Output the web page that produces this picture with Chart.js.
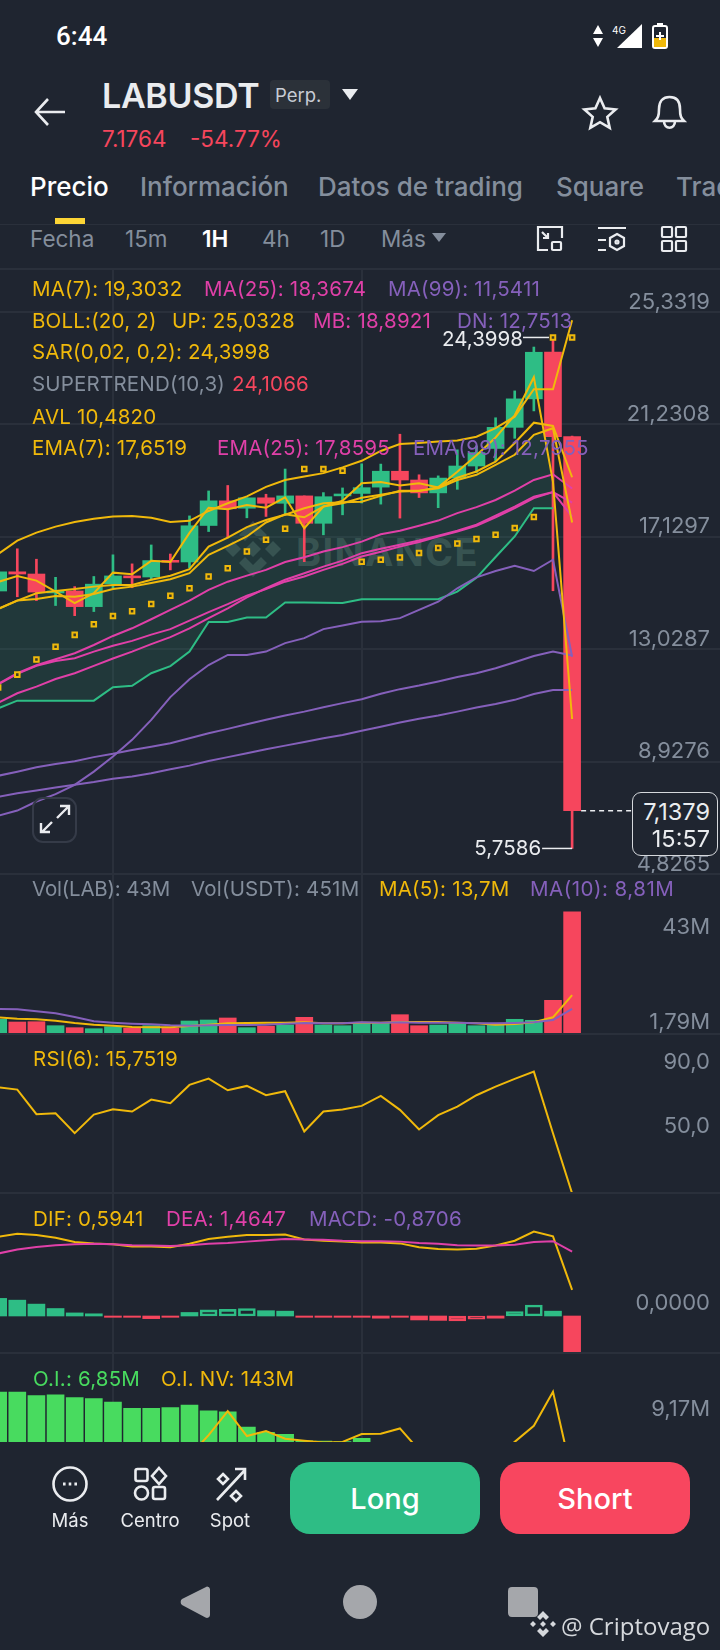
<!DOCTYPE html>
<html lang="es"><head><meta charset="utf-8">
<script src="https://cdn.jsdelivr.net/npm/chart.js@4/dist/chart.umd.js"></script>
<style>
html,body{margin:0;padding:0;background:#1F2530;width:720px;height:1650px;overflow:hidden;font-family:Inter,sans-serif}
#page{position:relative;width:720px;height:1650px;overflow:hidden}
canvas{position:absolute;left:0;display:block}
.t{position:absolute;white-space:nowrap;line-height:1;transform:translateY(-50%)}
.lg{font-size:20.5px;letter-spacing:.2px;z-index:5}
.y{color:#F0B90B}.m{color:#E040A8}.p{color:#8560BB}.g{color:#848E9C}.r{color:#F6465D}.lime{color:#48DB5F}
.hr{position:absolute;left:0;width:720px;height:2px;background:#2A303B}
svg{position:absolute;overflow:visible}
.tab{font-size:26px;font-weight:500;color:#848E9C}
.itv{font-size:22.5px;color:#848E9C}
.btn{position:absolute;top:1462px;height:72px;width:190px;border-radius:20px;color:#fff;font-size:29px;font-weight:500;display:flex;align-items:center;justify-content:center}
.bot{font-size:18.5px;color:#EAECEF;transform:translate(-50%,-50%)}
</style></head>
<body><div id="page">

<!-- header -->
<div class="t" style="left:56px;top:36px;font:500 26px Roboto;color:#fff">6:44</div>
<svg style="left:592px;top:25px" width="14" height="24"><path d="M6 0l5 9H1zM6 22l5-9H1z" fill="#fff"/></svg>
<div class="t" style="left:612px;top:30px;font:10px Inter;color:#fff">4G</div>
<svg style="left:617px;top:24px" width="26" height="25"><path d="M25 0v24H0z" fill="#fff"/></svg>
<svg style="left:652px;top:23px" width="17" height="27"><rect x="1" y="3" width="14" height="22" rx="2" fill="#1F2530" stroke="#fff" stroke-width="2"/><rect x="5" y="0" width="6" height="3" fill="#fff"/><rect x="2" y="15" width="12" height="9" fill="#F0B90B"/><path d="M8 9v8M4 13h8" stroke="#fff" stroke-width="2"/></svg>
<svg style="left:34px;top:97px" width="32" height="30" fill="none" stroke="#EAECEF" stroke-width="2.6"><path d="M31 15H2M14 2L2 15l12 13"/></svg>
<div class="t" style="left:102px;top:95px;font:600 34px Inter;color:#EAECEF;letter-spacing:-.3px">LABUSDT</div>
<div style="position:absolute;left:270px;top:80px;width:60px;height:29px;background:#2B3139;border-radius:4px"></div>
<div class="t" style="left:275px;top:95px;font:18.5px Inter;color:#C7CCD4">Perp.</div>
<svg style="left:342px;top:89px" width="16" height="12"><path d="M0 0h16l-8 11z" fill="#EAECEF"/></svg>
<div class="t r" style="left:102px;top:139px;font-size:22.5px">7.1764</div>
<div class="t r" style="left:190px;top:139px;font-size:22.5px">-54.77%</div>
<svg style="left:583px;top:96px" width="34" height="33" fill="none" stroke="#EAECEF" stroke-width="2.6"><path d="M17 2l4.6 10.4 11 1.1-8.300 7.400 2.400 11L17 26.200 7.300 31.900l2.400-11L1.400 13.500l11-1.100z"/></svg>
<svg style="left:653px;top:95px" width="33" height="34" fill="none" stroke="#EAECEF" stroke-width="2.6"><path d="M2 26c3-3 4-5 4-12C6 6 10 2 16.500 2S27 6 27 14c0 7 1 9 4 12zM11 26c0 9 11 9 11 0"/></svg>
<div class="t tab" style="left:30px;top:187px;color:#fff">Precio</div>
<div class="t tab" style="left:140px;top:187px">Información</div>
<div class="t tab" style="left:318px;top:187px">Datos de trading</div>
<div class="t tab" style="left:556px;top:187px">Square</div>
<div class="t tab" style="left:676px;top:187px">Trading</div>
<div style="position:absolute;left:55px;top:218px;width:30px;height:6px;background:#FCD535"></div>
<div class="hr" style="top:224px;height:1px"></div>
<div class="t itv" style="left:30px;top:239px">Fecha</div>
<div class="t itv" style="left:125px;top:239px">15m</div>
<div class="t itv" style="left:202px;top:239px;color:#fff;font-weight:600">1H</div>
<div class="t itv" style="left:262px;top:239px">4h</div>
<div class="t itv" style="left:320px;top:239px">1D</div>
<div class="t itv" style="left:381px;top:239px">Más</div>
<svg style="left:432px;top:233px" width="14" height="10"><path d="M0 0h14l-7 9z" fill="#848E9C"/></svg>
<svg style="left:537px;top:226px" width="26" height="26" fill="none" stroke="#EAECEF" stroke-width="2.2"><path d="M11 24H1V1h24v11M5 6l6 6M11 7v5H6"/><rect x="15" y="16" width="9" height="8" rx="1"/></svg>
<svg style="left:598px;top:226px" width="28" height="26" fill="none" stroke="#EAECEF" stroke-width="2.2"><path d="M0 2h28M0 14h8M0 24h8M19 8l7 4v8l-7 4-7-4v-8z"/><circle cx="19" cy="16" r="1.500"/></svg>
<svg style="left:661px;top:226px" width="26" height="26" fill="none" stroke="#EAECEF" stroke-width="2.200"><rect x="1" y="1" width="10" height="10" rx="1"/><rect x="15" y="1" width="10" height="10" rx="1"/><rect x="1" y="15" width="10" height="10" rx="1"/><rect x="15" y="15" width="10" height="10" rx="1"/></svg>

<div class="hr" style="top:268px"></div>

<!-- watermark behind the price canvas -->
<svg style="left:221px;top:517px" width="64" height="64" fill="#39444A"><path d="M32 4l14 14-6 6-8-8-8 8-6-6zM12 24l8 8-8 8-8-8zM52 24l8 8-8 8-8-8zM32 24l8 8-8 8-8-8zM32 60L18 46l6-6 8 8 8-8 6 6z"/></svg>
<div class="t" style="left:296px;top:552px;font:700 38px Inter;color:#39444A;letter-spacing:1.400px">BINANCE</div>

<canvas id="cPrice" width="720" height="606" style="top:268px"></canvas>
<canvas id="cVol" width="720" height="160" style="top:874px"></canvas>
<canvas id="cRsi" width="720" height="159" style="top:1034px"></canvas>
<canvas id="cMacd" width="720" height="160" style="top:1193px"></canvas>
<canvas id="cOi" width="720" height="89" style="top:1353px"></canvas>

<div class="hr" style="top:873px"></div>
<div class="hr" style="top:1033px"></div>
<div class="hr" style="top:1192px"></div>
<div class="hr" style="top:1352px"></div>

<!-- legends -->
<div class="t lg y" style="left:32px;top:289px">MA(7): 19,3032</div>
<div class="t lg m" style="left:204px;top:289px">MA(25): 18,3674</div>
<div class="t lg p" style="left:388px;top:289px">MA(99): 11,5411</div>
<div class="t lg y" style="left:32px;top:321px">BOLL:(20, 2)</div>
<div class="t lg y" style="left:172px;top:321px">UP: 25,0328</div>
<div class="t lg m" style="left:313px;top:321px">MB: 18,8921</div>
<div class="t lg p" style="left:457px;top:321px">DN: 12,7513</div>
<div class="t lg y" style="left:32px;top:352px">SAR(0,02, 0,2): 24,3998</div>
<div class="t lg g" style="left:32px;top:384px">SUPERTREND(10,3)</div>
<div class="t lg r" style="left:232px;top:384px">24,1066</div>
<div class="t lg y" style="left:32px;top:417px">AVL 10,4820</div>
<div class="t lg y" style="left:32px;top:448px">EMA(7): 17,6519</div>
<div class="t lg m" style="left:217px;top:448px">EMA(25): 17,8595</div>
<div class="t lg p" style="left:413px;top:448px">EMA(99): 12,7955</div>
<div class="t lg g" style="left:32px;top:889px;letter-spacing:-.2px">Vol(LAB): 43M</div>
<div class="t lg g" style="left:191px;top:889px">Vol(USDT): 451M</div>
<div class="t lg y" style="left:379px;top:889px">MA(5): 13,7M</div>
<div class="t lg p" style="left:530px;top:889px;letter-spacing:.5px">MA(10): 8,81M</div>
<div class="t lg y" style="left:33px;top:1059px">RSI(6): 15,7519</div>
<div class="t lg y" style="left:33px;top:1219px">DIF: 0,5941</div>
<div class="t lg m" style="left:166px;top:1219px">DEA: 1,4647</div>
<div class="t lg p" style="left:309px;top:1219px">MACD: -0,8706</div>
<div class="t lg lime" style="left:33px;top:1379px">O.I.: 6,85M</div>
<div class="t lg y" style="left:161px;top:1379px">O.I. NV: 143M</div>

<!-- last price box -->
<div style="position:absolute;left:632px;top:792px;width:84px;height:62px;border:1.500px solid #D5D8DC;border-radius:9px;background:#1F2530;z-index:6"></div>
<div class="t" style="right:10px;top:812px;font-size:23.5px;color:#EAECEF;z-index:7">7,1379</div>
<div class="t" style="right:10px;top:839px;font-size:23.5px;color:#EAECEF;z-index:7">15:57</div>
<!-- expand button -->
<svg style="left:32px;top:797px;z-index:6" width="45" height="46" fill="none"><rect x="1" y="1" width="43" height="44" rx="10" stroke="#353B48" stroke-width="2"/><path d="M25 21l11-11M28 9h9v9M20 25L10 35M18 35H9v-9" stroke="#EAECEF" stroke-width="2.400"/></svg>

<!-- bottom bar -->
<div style="position:absolute;left:0;top:1442px;width:720px;height:208px;background:#1F2530;z-index:8"></div>
<div style="position:absolute;left:0;top:0;width:720px;height:1650px;z-index:9">
<svg style="left:52px;top:1466px" width="36" height="36" fill="none" stroke="#EAECEF" stroke-width="2.600"><circle cx="18" cy="18" r="16.500"/><path d="M11 18h2.600M16.700 18h2.600M22.400 18H25" stroke-width="3"/></svg>
<svg style="left:134px;top:1467px" width="33" height="34" fill="none" stroke="#EAECEF" stroke-width="2.600"><rect x="1.500" y="2" width="12" height="12" rx="2"/><path d="M25 1l7 8-7 8-7-8z"/><circle cx="7.500" cy="26" r="6.500"/><rect x="19" y="20" width="12" height="12" rx="2"/></svg>
<svg style="left:215px;top:1467px" width="32" height="34" fill="none" stroke="#EAECEF" stroke-width="2.600"><path d="M2 33L30 3M20 2h10v11M8 7l5 5-5 5-5-5zM21 24l5 5-5 5-5-5z"/></svg>
<div class="t bot" style="left:70px;top:1520px">Más</div>
<div class="t bot" style="left:150px;top:1520px">Centro</div>
<div class="t bot" style="left:230px;top:1520px">Spot</div>
<div class="btn" style="left:290px;background:#2EBD85">Long</div>
<div class="btn" style="left:500px;background:#F8465F">Short</div>
<svg style="left:180px;top:1585px" width="30" height="34"><path d="M27 1.500a3 3 0 0 1 3 2.500v26a3 3 0 0 1-4.500 2.500L2 20a4 4 0 0 1 0-6z" fill="#A5A7AB"/></svg>
<svg style="left:343px;top:1585px" width="34" height="34"><circle cx="17" cy="17" r="17" fill="#A5A7AB"/></svg>
<svg style="left:508px;top:1587px" width="30" height="30"><rect width="30" height="30" rx="4" fill="#A5A7AB"/></svg>
<svg style="left:529px;top:1610px" width="28" height="28" fill="#D5D8DC"><path d="M14 1l6 6-3 3-3-3-3 3-3-3zM4 11l3 3-3 3-3-3zM24 11l3 3-3 3-3-3zM14 11l3 3-3 3-3-3zM14 27l-6-6 3-3 3 3 3-3 3 3z"/></svg>
<div class="t" style="left:561px;top:1625px;font:24px 'Open Sans';color:#D5D8DC">@ Criptovago</div>
</div>
</div>

<script>
// ---------- data: index 0 of every array is the candle cut by the left edge ----------
const candleIndex=[-1,0,1,2,3,4,5,6,7,8,9,10,11,12,13,14,15,16,17,18,19,20,21,22,23,24,25,26,27,28,29];
const openP=[15.15,15.85,15.77,15.08,15.15,14.58,15.41,15.70,15.66,16.27,16.21,17.54,18.44,18.17,18.55,18.35,18.62,17.62,18.62,18.71,18.94,19.52,19.20,18.73,19.27,19.71,20.35,21.12,22.16,23.87,20.78];
const closeP=[15.85,15.77,15.11,15.15,14.58,15.40,15.70,15.63,16.26,16.20,17.53,18.44,18.15,18.55,18.35,18.62,17.62,18.59,18.69,18.92,19.52,19.20,18.73,19.27,19.71,20.20,21.12,22.16,23.86,20.78,7.1379];
const highP=[16.00,16.69,16.31,15.65,15.31,15.68,16.47,16.14,16.83,16.50,17.89,18.80,19.00,18.55,18.68,19.60,18.62,18.74,18.91,19.79,19.78,20.87,19.39,19.35,20.30,20.44,21.47,22.45,24.05,24.3998,20.80];
const lowP=[15.00,14.94,14.80,14.62,14.25,14.40,15.27,15.27,15.55,15.92,15.99,17.32,17.09,17.82,17.87,17.93,16.22,17.20,17.93,18.36,18.32,17.81,18.56,18.19,18.86,19.47,19.91,20.72,21.72,15.16,5.7586];
const bollUp=[16.50,16.99,17.28,17.50,17.67,17.79,17.87,17.89,17.82,17.67,17.71,18.07,18.35,18.60,18.95,19.20,19.33,19.45,19.66,19.90,20.26,20.51,20.55,20.60,20.64,20.78,21.09,21.51,22.51,22.51,25.03];
const avl=[15.48,15.70,15.53,15.13,14.71,15.07,15.82,15.76,16.25,16.21,17.27,18.19,18.13,18.29,18.19,18.57,17.44,18.23,18.44,19.08,19.13,19.00,19.08,18.93,19.50,20.10,20.75,21.56,22.95,19.13,10.48];
const ma7=[14.50,14.80,14.86,14.97,14.94,15.04,15.22,15.31,15.44,15.58,15.80,16.47,16.80,17.14,17.65,17.95,17.84,18.23,18.35,18.55,18.66,18.78,18.80,18.94,19.28,19.51,19.87,20.55,21.29,21.17,19.30];
const ema7=[14.50,14.80,15.07,15.15,15.22,15.31,15.37,15.37,15.56,15.71,15.95,16.77,17.10,17.48,17.74,17.93,18.17,18.35,18.39,18.41,18.62,18.81,18.81,18.90,19.20,19.39,19.75,20.12,20.85,21.09,17.65];
const sar=[11.63,12.10,12.65,13.12,13.55,13.94,14.24,14.41,14.68,14.98,15.25,15.68,15.98,16.59,17.02,17.42,19.60,19.60,19.54,16.22,16.29,16.37,16.54,16.72,16.88,17.05,17.20,17.45,17.85,24.40,24.40];
const supertrend=[10.87,11.15,11.15,11.15,11.15,11.15,11.64,11.69,12.15,12.41,12.94,14.02,14.02,14.18,14.18,14.73,14.73,14.72,14.71,14.85,14.85,14.85,14.85,14.85,15.13,15.63,16.39,17.14,18.17,18.17];
const bollMb=[11.76,12.15,12.44,12.66,12.88,13.18,13.51,13.79,14.12,14.46,14.80,15.19,15.49,15.71,15.92,16.21,16.38,16.59,16.75,16.95,17.22,17.35,17.53,17.72,17.99,18.21,18.47,18.81,19.20,19.41,18.89];
const ma25=[11.07,11.42,11.66,11.94,12.15,12.42,12.69,12.94,13.21,13.47,13.79,14.16,14.52,14.92,15.25,15.56,15.80,16.04,16.26,16.53,16.69,16.84,16.99,17.17,17.35,17.57,17.90,18.23,18.59,18.76,18.37];
const ema25=[11.74,12.13,12.42,12.60,12.70,12.94,13.15,13.33,13.56,13.76,14.07,14.38,14.67,14.98,15.22,15.49,15.68,15.92,16.14,16.41,16.58,16.77,16.94,17.14,17.32,17.53,17.84,18.17,18.54,18.76,17.86];
const bollDn=[6.95,7.14,7.47,7.74,8.08,8.56,9.11,9.72,10.45,11.28,11.93,12.45,12.82,12.82,12.94,13.25,13.43,13.76,13.89,14.03,14.05,14.16,14.46,14.76,15.25,15.65,15.88,16.07,15.88,16.29,12.75];
const ema99=[8.41,8.56,8.72,8.84,8.94,9.09,9.21,9.35,9.47,9.60,9.78,9.96,10.12,10.29,10.45,10.61,10.75,10.91,11.06,11.20,11.40,11.57,11.70,11.85,12.01,12.15,12.33,12.55,12.78,12.94,12.80];
const ma99=[7.64,7.77,7.87,7.98,8.08,8.18,8.30,8.38,8.50,8.65,8.78,8.95,9.09,9.23,9.38,9.51,9.64,9.78,9.90,10.05,10.20,10.35,10.49,10.61,10.75,10.90,11.03,11.18,11.39,11.54,11.54];
const priceTicks=[25.3319,21.2308,17.1297,13.0287,8.9276,4.8265];
const priceTickLabels=['25,3319','21,2308','17,1297','13,0287','8,9276','4,8265'];

const volume=[5.17,4.22,4.32,2.92,2.22,1.86,2.57,2.00,2.92,2.00,4.57,4.92,5.63,2.22,2.71,3.16,5.87,3.16,2.92,3.76,3.76,6.79,2.92,3.16,3.76,2.92,3.16,5.17,4.82,11.85,43];
const volMa5=[5.86,5.39,5.16,4.69,3.87,3.28,2.93,2.46,2.34,2.34,2.81,3.28,3.75,3.87,3.98,3.98,4.10,3.75,3.75,3.98,3.98,4.22,4.22,4.22,3.98,3.75,3.28,3.52,4.10,5.86,13.7];
const volMa10=[8.79,8.67,7.97,7.27,5.98,4.45,3.98,3.63,3.40,3.05,2.93,3.05,3.16,3.16,3.28,3.63,3.87,3.75,3.75,4.10,3.98,4.10,3.98,3.98,3.98,3.75,3.75,3.87,4.10,4.92,8.81];

const rsi6=[81.18,79.74,64.56,65.18,52.87,64.36,67.64,66.21,73.59,71.33,82.62,86.51,79.33,82.00,76.26,78.72,53.90,66.21,67.44,69.69,75.85,67.23,55.13,63.95,69.28,76.26,81.59,86.31,90.82,52.87,15.75];

const dif=[1.80,1.87,1.84,1.78,1.68,1.65,1.63,1.58,1.58,1.56,1.64,1.75,1.80,1.84,1.84,1.85,1.74,1.71,1.69,1.67,1.67,1.65,1.56,1.52,1.51,1.53,1.60,1.71,1.92,1.81,0.5941];
const dea=[1.42,1.51,1.57,1.61,1.63,1.64,1.63,1.61,1.60,1.59,1.61,1.64,1.66,1.69,1.72,1.75,1.74,1.73,1.71,1.70,1.70,1.69,1.66,1.64,1.61,1.60,1.60,1.62,1.68,1.70,1.4647];
const macd=[0.40,0.36,0.27,0.17,0.07,0.05,-0.03,-0.03,-0.06,-0.03,0.08,0.14,0.15,0.17,0.12,0.11,-0.03,-0.03,-0.03,-0.03,-0.05,-0.03,-0.09,-0.10,-0.11,-0.07,-0.05,0.10,0.25,0.11,-0.8706];
const macdHollow=[0,0,0,0,0,0,0,0,0,0,0,1,1,1,0,0,0,0,0,0,0,0,0,0,1,1,0,1,1,0,0];

const openInterest=[9.83,9.83,9.74,9.76,9.69,9.67,9.58,9.43,9.43,9.45,9.51,9.37,9.34,8.97,8.84,8.79,8.63,8.62,8.61,8.69,8.50,8.42,8.30,8.24,8.10,8.05,7.92,7.80,7.70,7.40,6.85];
const oiNotional=[145,146,148,150,152,150,152,155,156,158,160,177.8,198.4,177,181.2,174.7,173,171.5,172,178.7,179,183.5,165,160,163,165,159,172,185.8,215,143];

// ---------- styling ----------
const GREEN='#2EBD85',RED='#F6465D',YEL='#F0B90B',MAG='#E040A8',PUR='#8560BB',GRID='#2A303B',TXT='#848E9C',LIME='#48DB5F';
const FONT={family:'Inter',size:22};
const isUp=candleIndex.map((_,i)=>closeP[i]>=openP[i]);
const upColors=isUp.map(u=>u?GREEN:RED);

const zeroFit=s=>{if(s.isHorizontal())s.height=0;else s.width=0;s.paddingTop=s.paddingBottom=s.paddingLeft=s.paddingRight=0;};
const xAxis=()=>({type:'linear',min:-0.904,max:36.73,offset:false,afterFit:zeroFit,
  afterBuildTicks:a=>{a.ticks=[{value:5},{value:18}]},
  ticks:{display:false},grid:{color:GRID,lineWidth:2,drawTicks:false,offset:false},border:{display:false}});
const yAxis=(min,max,vals,labels,off,grid)=>({position:'right',min,max,afterFit:zeroFit,
  afterBuildTicks:a=>{a.ticks=vals.map(v=>({value:v}))},
  ticks:{mirror:true,padding:-10,labelOffset:off,autoSkip:false,color:TXT,font:FONT,callback:(v,i)=>labels[i]},
  grid:{display:!!grid,color:GRID,lineWidth:2,drawTicks:false},border:{display:false}});
const line=(label,data,color,order,w)=>({type:'line',label,data,borderColor:color,borderWidth:w||2,pointRadius:0,tension:0,fill:false,order,spanGaps:false});
const bar=(label,data,color,order,th,extra)=>Object.assign({type:'bar',label,data,backgroundColor:color,barThickness:th||17,grouped:false,order},extra||{});

function make(id,datasets,scales,plugins){
  return new Chart(document.getElementById(id),{type:'bar',data:{labels:candleIndex,datasets},
    options:{responsive:false,animation:false,events:[],layout:{padding:0,autoPadding:false},
      plugins:{legend:{display:false},tooltip:{enabled:false}},scales},plugins:plugins||[]});
}

// extremes and last-price leader drawn from the price scale
const priceMarks={id:'priceMarks',afterDatasetsDraw(c){
  const {ctx,scales:{x,y}}=c;ctx.save();
  ctx.strokeStyle='#EAECEF';ctx.fillStyle='#EAECEF';ctx.lineWidth=1.5;ctx.font='20.5px Inter';ctx.textAlign='right';ctx.textBaseline='middle';
  const yh=y.getPixelForValue(highP[30-1]),xh=x.getPixelForValue(28);
  ctx.beginPath();ctx.moveTo(xh-30,yh);ctx.lineTo(xh-4,yh);ctx.stroke();
  ctx.fillText('24,3998',xh-30,yh+2);
  const yl=y.getPixelForValue(lowP[30]),xl=x.getPixelForValue(29);
  ctx.beginPath();ctx.moveTo(xl-30,yl);ctx.lineTo(xl,yl);ctx.stroke();
  ctx.fillText('5,7586',xl-31,yl);
  const yc=y.getPixelForValue(closeP[30]);
  ctx.setLineDash([5,4]);ctx.beginPath();ctx.moveTo(xl+9,yc);ctx.lineTo(632,yc);ctx.stroke();
  ctx.restore();
}};

// ---------- price panel ----------
const priceSets=[
  Object.assign(line('shade',ema7.slice(0,supertrend.length),'transparent',100,0),{fill:{target:1},backgroundColor:'rgba(46,189,133,0.13)'}),
  line('SUPERTREND',supertrend,GREEN,40),
  bar('wick',lowP.map((l,i)=>[l,highP[i]]),upColors,90,2),
  bar('body',openP.map((o,i)=>[o,closeP[i]]),upColors,80,17),
  line('MA99',ma99,PUR,30),line('EMA99',ema99,PUR,30),line('DN',bollDn,PUR,30),
  line('MA25',ma25,MAG,20),line('EMA25',ema25,MAG,20),line('MB',bollMb,MAG,20),
  line('UP',bollUp,YEL,10),line('MA7',ma7,YEL,10),line('EMA7',ema7,YEL,10),line('AVL',avl,YEL,10),
  {type:'line',label:'SAR',data:sar,showLine:false,pointStyle:'rect',pointRadius:3.2,borderWidth:2,pointBorderColor:YEL,pointBackgroundColor:'#3A3A25',order:5}
];
make('cPrice',priceSets,{x:xAxis(),y:yAxis(4.8265,26.9335,priceTicks,priceTickLabels,-10,true)},[priceMarks]);

// ---------- volume ----------
make('cVol',[bar('Vol',volume,upColors,20),line('MA5',volMa5,YEL,10),line('MA10',volMa10,PUR,5)],
 {x:xAxis(),y:yAxis(0,56.26,[43],['43M'],16),y2:yAxis(0,56.26,[1.79],['1,79M'],-7)});

// ---------- RSI ----------
make('cRsi',[line('RSI6',rsi6,YEL,5)],{x:xAxis(),y:yAxis(16,114,[90,50],['90,0','50,0'],-11)});

// ---------- MACD ----------
const macdColor=macd.map(v=>v>=0?GREEN:RED);
make('cMacd',[
  bar('MACD',macd,macd.map((v,i)=>macdHollow[i]?'transparent':macdColor[i]),20,17,{borderColor:macdColor,borderWidth:macdHollow.map(h=>h?2:0),borderSkipped:false}),
  line('DIF',dif,YEL,10),line('DEA',dea,MAG,5)],
 {x:xAxis(),y:yAxis(-0.841,2.795,[0],['0,0000'],-13)});

// ---------- open interest ----------
make('cOi',[bar('OI',openInterest,LIME,20),Object.assign(line('OI NV',oiNotional,YEL,5),{yAxisID:'y2'})],
 {x:xAxis(),y:yAxis(8.60,10.79,[9.17],['9,17M'],-9),
  y2:{position:'left',display:false,min:171.9,max:248.1}});
</script>
</body></html>
